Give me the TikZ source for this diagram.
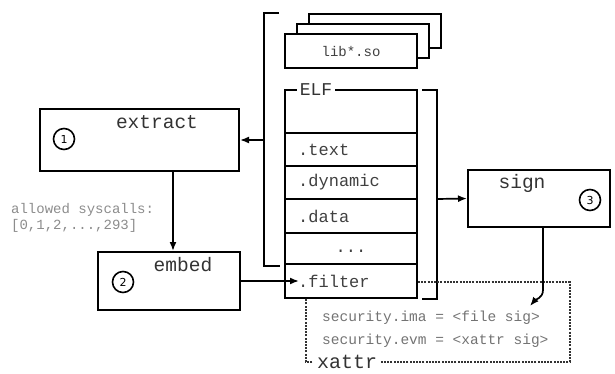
\documentclass[tikz,border=0pt]{standalone}
\usepackage{fontspec}
\newfontfamily\cour{Liberation Mono}
\newfontfamily\numfont{DejaVu Sans}
\usetikzlibrary{arrows.meta,positioning}

\tikzset{
  box/.style={draw, line width=2pt, fill=white, inner sep=0pt},
  boxlbl/.style={font=\cour\fontsize{19.5}{20}\selectfont, text=black!80, inner sep=0pt},
  seclbl/.style={font=\cour\fontsize{17}{18}\selectfont, text=black!75, inner sep=0pt, anchor=west},
  note/.style={font=\cour\fontsize{14}{15}\selectfont, text=black!50, inner sep=0pt, anchor=west},
  num/.style={circle, draw, line width=1.6pt, minimum size=21pt, inner sep=0pt,
              font=\numfont\fontsize{11}{11}\selectfont},
  row/.style={draw, line width=2pt, fill=white, minimum width=132pt, inner sep=0pt},
  brk/.style={line width=2pt},
  arr/.style={line width=1.7pt, -{Latex[length=9pt,width=7pt]}},
  dots/.style={line width=2.6pt, black!80, dash pattern=on 2pt off 1.2pt},
}

\begin{document}
\begin{tikzpicture}[x=1pt, y=-1pt]
\useasboundingbox (0,0) rectangle (615,374);

% shared objects: a stack of three lib*.so boxes
\node[box, minimum width=132pt, minimum height=34pt] (lib3) at (375,31) {};
\node[box, minimum width=132pt, minimum height=34pt] (lib2) at (363,41) {};
\node[box, minimum width=132pt, minimum height=34pt] (lib1) at (351,51) {};
\node[font=\cour\fontsize{14}{15}\selectfont, text=black!75] at (lib1) {lib*.so};

% ELF sections
\node[row, minimum height=43pt] (hdr)    at (351,111.5) {};
\node[row, minimum height=33pt] (text)   at (351,149.5) {};
\node[row, minimum height=33pt] (dyn)    at (351,182.5) {};
\node[row, minimum height=34pt] (data)   at (351,216) {};
\node[row, minimum height=31pt] (more)   at (351,248.5) {};
\node[row, minimum height=34pt] (filter) at (351,281) {};
\node[boxlbl, font=\cour\fontsize{18}{18}\selectfont, fill=white, inner xsep=3pt, inner ysep=1pt]
  (elf) at (316,90) {ELF};
\node[seclbl] at ([xshift=14pt]text.west)   {.text};
\node[seclbl] at ([xshift=14pt]dyn.west)    {.dynamic};
\node[seclbl] at ([xshift=14pt]data.west)   {.data};
\node[seclbl, anchor=center] at ([yshift=-3pt]more.center) {...};
\node[seclbl] at ([xshift=14pt]filter.west) {.filter};

% bracket around the whole binary
\coordinate (lt) at (279,13);
\coordinate (lb) at (280,266);
\draw[brk] (lt) -- (264,13) -- (264,266) -- (lb);
\coordinate (lmid) at (264,140);

% bracket around the ELF file
\coordinate (rt) at (422,90);
\coordinate (rb) at (422,299);
\draw[brk] (rt) -- (437,90) -- (437,299) -- (rb);
\coordinate (rmid) at (437,199);

% tool steps
\node[box, minimum width=199pt, minimum height=62pt] (extract) at (139.5,140) {};
\node[boxlbl] at ([xshift=17.5pt, yshift=-14pt]extract.north) {extract};
\node[num] (c1) at (64,139) {1};

\node[box, minimum width=142pt, minimum height=58pt] (embed) at (169,281) {};
\node[boxlbl] at ([xshift=14pt, yshift=-14pt]embed.north) {embed};
\node[num] (c2) at (123,282) {2};

\node[box, minimum width=142pt, minimum height=57pt] (sign) at (539,198.5) {};
\node[boxlbl] at ([xshift=-17pt, yshift=-14pt]sign.north) {sign};
\node[num] (c3) at (590,200) {3};

% syscall list
\node[note, text=black!45] (sys1) at (11,210) {allowed syscalls:};
\node[note, text=black!45] (sys2) at (11,226) {[0,1,2,...,293]};

% extended attributes
\draw[dots] (filter.south east |- 0,282) -- (570,282) -- (570,362) -- (306,362) -- (306,298);
\node[boxlbl, font=\cour\fontsize{20}{20}\selectfont, fill=white, inner xsep=3pt, inner ysep=1pt]
  (xattr) at (347,362) {xattr};
\node[note, font=\cour\fontsize{14.5}{15}\selectfont, text=black!55] (ima) at (322,318) {security.ima = <file sig>};
\node[note, font=\cour\fontsize{14.5}{15}\selectfont, text=black!55] (evm) at (322,341) {security.evm = <xattr sig>};

% flow
\draw[arr] (lmid) -- (extract.east);
\draw[arr] ([xshift=4pt]embed.north |- extract.south) -- ([xshift=4pt]embed.north);
\draw[arr] (embed.east) -- ([xshift=15pt]filter.west);
\draw[arr] (rmid) -- (sign.west);
\coordinate (tip) at (530,306);
\draw[arr] ([xshift=4pt]sign.south) -- ([xshift=4pt]sign.south |- 0,290) to[out=-90, in=50] (tip);
\end{tikzpicture}
\end{document}
